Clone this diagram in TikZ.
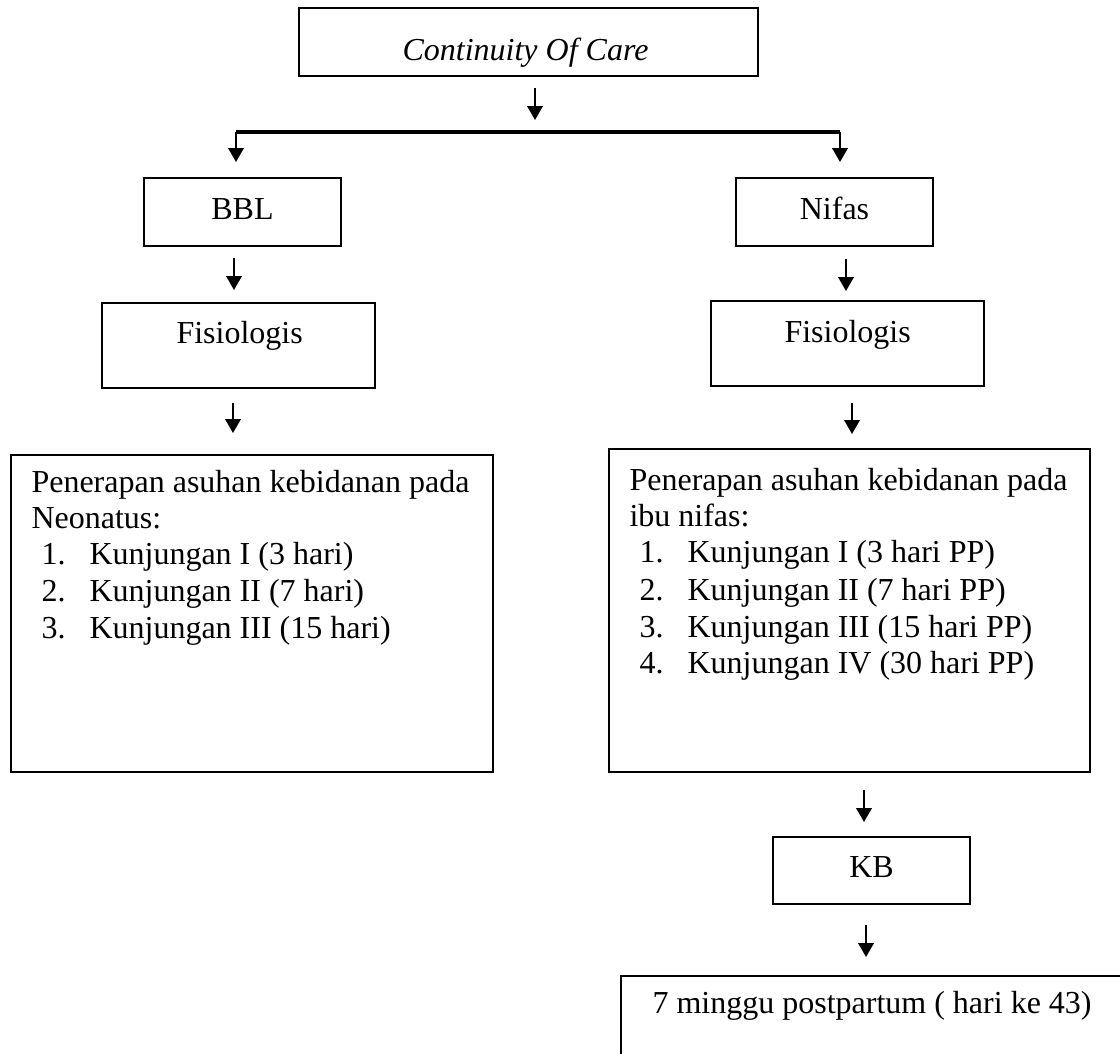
\documentclass[tikz,border=0pt]{standalone}
\usepackage{fontspec}
\setmainfont{Liberation Serif}
\usetikzlibrary{arrows.meta,fit}
\begin{document}
\begin{tikzpicture}[x=0.375pt,y=-0.375pt,
  box/.style={draw,line width=0.75pt,inner sep=0pt},
  txt/.style={inner sep=0pt,anchor=base west,font=\fontsize{12}{13.8}\selectfont},
  ctxt/.style={txt,anchor=base},
  arr/.style={line width=0.7pt,-{Triangle[width=5.8pt,length=5.2pt]}},
  barline/.style={line width=1.2pt}]
\useasboundingbox (0,0) rectangle (1120,1053);
\clip (0,0) rectangle (1120,1053);
% boxes
\node[box,fit={(299,8)(758,76)}] (coc) {};
\node[txt] (tcoc) at (402,60) {\textit{Continuity Of Care}};
\node[box,fit={(144,178)(341,246)}] (bbl) {};
\node[ctxt] (tbbl) at (242.5,219) {BBL};
\node[box,fit={(736,178)(933,246)}] (nif) {};
\node[ctxt] (tnif) at (834.5,219) {Nifas};
\node[box,fit={(102,303)(375,388)}] (fisl) {};
\node[txt] (tfisl) at (176,343) {Fisiologis};
\node[box,fit={(711,301)(984,386)}] (fisr) {};
\node[txt] (tfisr) at (784,342) {Fisiologis};
% left big box
\node[box,fit={(11,455)(493,772)}] (bigl) {};
\node[txt] (l1) at (31,492) {Penerapan asuhan kebidanan pada};
\node[txt] (l2) at (31,528) {Neonatus:};
\node[txt] (ln1) at (41,564) {1.};
\node[txt] (lk1) at (89,564) {Kunjungan I (3 hari)};
\node[txt] (ln2) at (41,601) {2.};
\node[txt] (lk2) at (89,601) {Kunjungan II (7 hari)};
\node[txt] (ln3) at (41,638) {3.};
\node[txt] (lk3) at (89,638) {Kunjungan III (15 hari)};
% right big box
\node[box,fit={(609,449)(1090,772)}] (bigr) {};
\node[txt] (r1) at (629,490) {Penerapan asuhan kebidanan pada};
\node[txt] (r2) at (629,526) {ibu nifas:};
\node[txt] (rn1) at (639,562) {1.};
\node[txt] (rk1) at (687,562) {Kunjungan I (3 hari PP)};
\node[txt] (rn2) at (639,600) {2.};
\node[txt] (rk2) at (687,600) {Kunjungan II (7 hari PP)};
\node[txt] (rn3) at (639,637) {3.};
\node[txt] (rk3) at (687,637) {Kunjungan III (15 hari PP)};
\node[txt] (rn4) at (639,673) {4.};
\node[txt] (rk4) at (687,673) {Kunjungan IV (30 hari PP)};
% KB and bottom
\node[box,fit={(773,837)(970,904)}] (kb) {};
\node[ctxt] (tkb) at (871.5,877) {KB};
\node[box,fit={(621,976)(1140,1075)}] (pp) {};
\node[txt] (tpp) at (652,1013) {7 minggu postpartum ( hari ke 43)};
% connector points
\coordinate (a0s) at (535,88);  \coordinate (a0e) at (535,120);
\coordinate (barL) at (236,132); \coordinate (barR) at (840,132);
\coordinate (bblin) at (236,162); \coordinate (nifin) at (840,162);
\coordinate (a1s) at (234,258); \coordinate (a1e) at (234,290);
\coordinate (a2s) at (846,259); \coordinate (a2e) at (846,291);
\coordinate (a3s) at (233,403); \coordinate (a3e) at (233,433);
\coordinate (a4s) at (852,403); \coordinate (a4e) at (852,434);
\coordinate (a5s) at (864,790); \coordinate (a5e) at (864,822);
\coordinate (a6s) at (866,925); \coordinate (a6e) at (866,957);
% connectors
\draw[arr] (a0s) -- (a0e);
\draw[barline] (barL) -- (barR);
\draw[arr] (barL) -- (bblin);
\draw[arr] (barR) -- (nifin);
\draw[arr] (a1s) -- (a1e);
\draw[arr] (a2s) -- (a2e);
\draw[arr] (a3s) -- (a3e);
\draw[arr] (a4s) -- (a4e);
\draw[arr] (a5s) -- (a5e);
\draw[arr] (a6s) -- (a6e);
\end{tikzpicture}
\end{document}
